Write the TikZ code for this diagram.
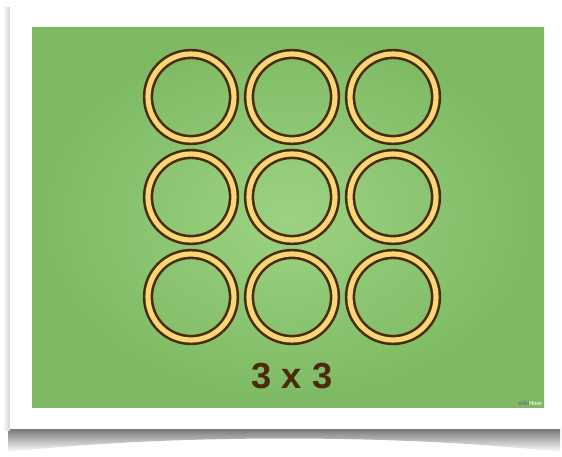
\documentclass[tikz,border=0pt]{standalone}
\usepackage{fontspec}
\setmainfont{Liberation Sans}
\usepackage{tikz}
\usetikzlibrary{positioning,shadings}

\definecolor{boardgreen}{HTML}{9CD383}
\definecolor{boardedge}{HTML}{7DB962}
\definecolor{ringyellow}{HTML}{F9D776}
\definecolor{ringbrown}{HTML}{4B2A0C}

\tikzset{
  ring/.style={circle, draw=ringbrown, line width=2.2pt, double=ringyellow,
    double distance=4.4pt, minimum size=2.58cm, inner sep=0pt},
  caption/.style={text=ringbrown, font=\fontsize{31}{36}\selectfont\bfseries}
}

\begin{document}
\begin{tikzpicture}[x=0.03cm, y=-0.03cm]
    \useasboundingbox (0,0) rectangle (562,457);

    % Shadow under the card
    \shade[top color=black!55, bottom color=white]
      (8,428) -- (560,428) -- (560,452) .. controls (400,434) and (170,434) .. (8,452) -- cycle;
    \shade[left color=white, right color=black!18] (3,8) rectangle (10,430);

    % Card
    \fill[white] (10,5) rectangle (560,429);

    % Green board
    \shade[inner color=boardgreen, outer color=boardedge] (32,28) rectangle (544,407);

    % Rings, 3 by 3
    \foreach \row/\y in {1/97, 2/197, 3/297}
      \foreach \col/\x in {1/191, 2/292, 3/393}
        \node[ring] (r-\row-\col) at (\x,\y) {};

    % Caption
    \node[caption] (label) at (292,376) {3 x 3};

    % Watermark
    \node[font=\fontsize{5}{6}\selectfont\bfseries, anchor=south east, inner sep=1pt] (mark) at (543,407)
      {\textcolor{black!55}{wiki}\textcolor{white!85!boardedge}{How}};
  \end{tikzpicture}
\end{document}
